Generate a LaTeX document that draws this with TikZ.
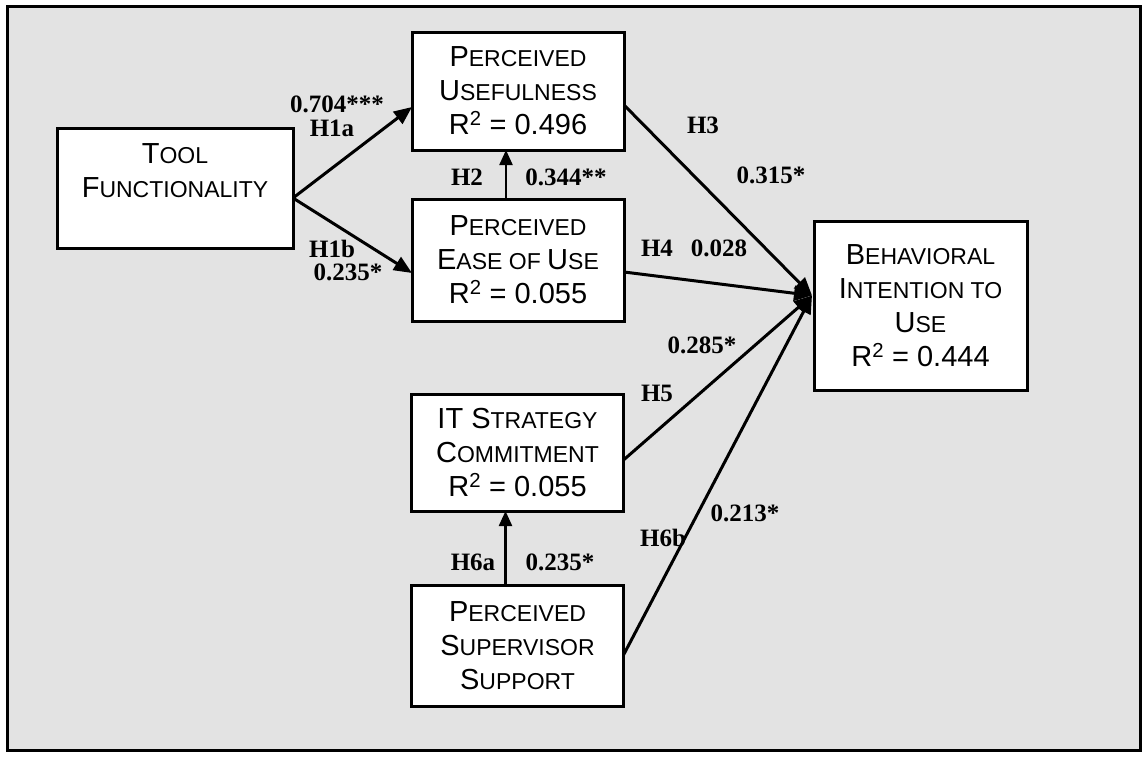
\documentclass[tikz,border=0pt]{standalone}
\usepackage{fontspec}
\setmainfont{Liberation Serif}
\newfontfamily\boxfont{Liberation Sans}
\usetikzlibrary{arrows.meta}
\newcommand\capsm[2]{#1{\fontsize{23}{34}\selectfont #2}}
\tikzset{
  concept/.style={draw=black, line width=3pt, fill=white, align=center,
    font=\boxfont\fontsize{29}{34}\selectfont, inner sep=0pt, outer sep=0pt},
  lbl/.style={font=\bfseries\fontsize{25}{28}\selectfont, inner sep=0pt},
  path/.style={line width=3pt, -{Triangle[length=18pt,width=15pt]}},
  vpath/.style={line width=2.2pt, -{Triangle[length=15pt,width=13pt]}},
  line/.style={line width=3pt}
}
\begin{document}
\begin{tikzpicture}[x=1pt,y=-1pt]
\useasboundingbox (0,0) rectangle (1143,756);
\fill[white] (0,0) rectangle (1143,756);
\draw[line width=3pt, fill=black!11] (7,6) rectangle (1140,750);

\node[concept, minimum width=236pt, minimum height=120pt] (tf) at (175,188)
  {\capsm{T}{OOL}\\\capsm{F}{UNCTIONALITY}\\ };
\node[concept, minimum width=212pt, minimum height=118pt] (pu) at (518,91)
  {\capsm{P}{ERCEIVED}\\\capsm{U}{SEFULNESS}\\R\textsuperscript{2} = 0.496};
\node[concept, minimum width=212pt, minimum height=122pt] (peou) at (518,260)
  {\capsm{P}{ERCEIVED}\\\capsm{E}{ASE OF }\capsm{U}{SE}\\R\textsuperscript{2} = 0.055};
\node[concept, minimum width=212pt, minimum height=117pt] (itsc) at (517.5,452.5)
  {IT \capsm{S}{TRATEGY}\\\capsm{C}{OMMITMENT}\\R\textsuperscript{2} = 0.055};
\node[concept, minimum width=212pt, minimum height=121pt] (pss) at (517.5,645.5)
  {\capsm{P}{ERCEIVED}\\\capsm{S}{UPERVISOR}\\\capsm{S}{UPPORT}};
\node[concept, minimum width=213pt, minimum height=169pt] (bi) at (920.5,305.5)
  {\capsm{B}{EHAVIORAL}\\\capsm{I}{NTENTION TO}\\\capsm{U}{SE}\\R\textsuperscript{2} = 0.444};

\coordinate (conv) at ([xshift=-2pt,yshift=10pt]bi.west);

\draw[path] ([yshift=-10pt]tf.east) -- ([yshift=-16pt]pu.west);
\draw[path] ([yshift=-10pt]tf.east) -- ([yshift=-13pt]peou.west);
\draw[vpath] ([xshift=-12pt]peou.north) -- ([xshift=-12pt]pu.south);
\draw[vpath] ([xshift=-12pt]pss.north) -- ([xshift=-12pt]itsc.south);
\draw[path] ([yshift=-14pt]pu.east) -- (conv);
\draw[path] ([yshift=-12pt]peou.east) -- (conv);
\draw[path] ([yshift=-7.5pt]itsc.east) -- (conv);
\draw[path] ([yshift=-9.5pt]pss.east) -- (conv);

\node[lbl] (l704) at (337,104) {0.704***};
\node[lbl] (h1a) at (332,128) {H1a};
\node[lbl] (h1b) at (332,249) {H1b};
\node[lbl] (l235a) at (348,272) {0.235*};
\node[lbl] (h2) at (467,177) {H2};
\node[lbl] (l344) at (566,177) {0.344**};
\node[lbl] (h3) at (703,125) {H3};
\node[lbl] (l315) at (771,175) {0.315*};
\node[lbl] (h4) at (657,248) {H4};
\node[lbl] (l028) at (719,248) {0.028};
\node[lbl] (l285) at (702,345) {0.285*};
\node[lbl] (h5) at (657,393) {H5};
\node[lbl] (h6a) at (473,562) {H6a};
\node[lbl] (l235b) at (560,562) {0.235*};
\node[lbl] (h6b) at (663,538) {H6b};
\node[lbl] (l213) at (745,513) {0.213*};
\end{tikzpicture}
\end{document}
